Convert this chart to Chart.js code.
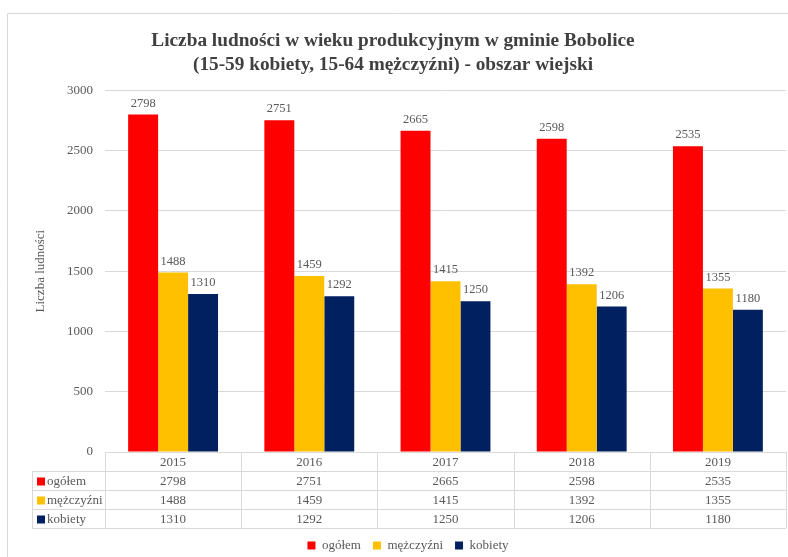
<!DOCTYPE html>
<html>
<head>
<meta charset="utf-8">
<script src="https://cdn.jsdelivr.net/npm/chart.js@4.4.1/dist/chart.umd.min.js"></script>
<style>
  body { margin: 0; background: #fff; }
  canvas { display: block; }
</style>
</head>
<body>
<canvas id="chart" width="788" height="557"></canvas>
<script>
// Data
const years = ['2015', '2016', '2017', '2018', '2019'];
const ogolem = [2798, 2751, 2665, 2598, 2535];
const mezczyzni = [1488, 1459, 1415, 1392, 1355];
const kobiety = [1310, 1292, 1250, 1206, 1180];
const yTicks = [0, 500, 1000, 1500, 2000, 2500, 3000];

const serif = '"Liberation Serif", "Times New Roman", serif';
const textGray = '#595959';
const lineGray = '#d9d9d9';

// Light frame around the chart
const framePlugin = {
    id: 'frame',
    beforeDraw(chart) {
        const ctx = chart.ctx;
        ctx.save();
        ctx.strokeStyle = lineGray;
        ctx.lineWidth = 1;
        ctx.beginPath();
        ctx.moveTo(7.5, 557);
        ctx.lineTo(7.5, 13.5);
        ctx.lineTo(788, 13.5);
        ctx.stroke();
        ctx.restore();
    }
};

// nudge the legend a bit to the right, like in the original
const legendShift = {
    id: 'legendShift',
    afterLayout(chart) {
        chart.legend.left += 15;
        chart.legend.right += 15;
    }
};

// Values above bars
const valueLabels = {
    id: 'valueLabels',
    afterDatasetsDraw(chart) {
        const ctx = chart.ctx;
        ctx.save();
        ctx.font = '12.5px ' + serif;
        ctx.fillStyle = textGray;
        ctx.textAlign = 'center';
        ctx.textBaseline = 'bottom';
        chart.data.datasets.forEach((ds, i) => {
            chart.getDatasetMeta(i).data.forEach((bar, j) => {
                ctx.fillText(ds.data[j], bar.x, bar.y - 5);
            });
        });
        ctx.restore();
    }
};

// Data table under the x axis
const dataTable = {
    id: 'dataTable',
    afterDraw(chart) {
        const ctx = chart.ctx;
        const x = chart.scales.x;
        const area = chart.chartArea;
        const n = years.length;
        const colW = (area.right - area.left) / n;
        const rowH = 19;
        const top = area.bottom;
        const tableLeft = 32;
        const rows = chart.data.datasets;

        ctx.save();
        ctx.strokeStyle = lineGray;
        ctx.lineWidth = 1;
        ctx.beginPath();
        ctx.moveTo(area.left, top + 0.5);
        ctx.lineTo(area.right, top + 0.5);
        for (let r = 1; r <= rows.length + 1; r++) {
            const y = Math.round(top + r * rowH) + 0.5;
            ctx.moveTo(tableLeft, y);
            ctx.lineTo(area.right, y);
        }
        for (let c = 0; c <= n; c++) {
            const xx = Math.round(area.left + c * colW) + 0.5;
            ctx.moveTo(xx, top);
            ctx.lineTo(xx, top + (rows.length + 1) * rowH);
        }
        ctx.moveTo(tableLeft + 0.5, top + rowH);
        ctx.lineTo(tableLeft + 0.5, top + (rows.length + 1) * rowH);
        ctx.stroke();

        ctx.font = '13px ' + serif;
        ctx.fillStyle = textGray;
        ctx.textBaseline = 'middle';
        ctx.textAlign = 'center';
        years.forEach((yr, c) => {
            ctx.fillText(yr, x.getPixelForValue(c), top + rowH / 2 + 1);
        });
        rows.forEach((ds, r) => {
            const cy = top + (r + 1.5) * rowH + 1;
            ctx.textAlign = 'center';
            ds.data.forEach((v, c) => {
                ctx.fillText(v, x.getPixelForValue(c), cy);
            });
            ctx.fillStyle = ds.backgroundColor;
            ctx.fillRect(tableLeft + 5, cy - 4, 8, 8);
            ctx.fillStyle = textGray;
            ctx.textAlign = 'left';
            ctx.fillText(ds.label, tableLeft + 15, cy);
        });
        ctx.restore();
    }
};

new Chart(document.getElementById('chart'), {
    type: 'bar',
    data: {
        labels: years,
        datasets: [
            { label: 'ogółem', data: ogolem, backgroundColor: '#FF0000' },
            { label: 'mężczyźni', data: mezczyzni, backgroundColor: '#FFC000' },
            { label: 'kobiety', data: kobiety, backgroundColor: '#002060' }
        ]
    },
    options: {
        responsive: false,
        animation: false,
        devicePixelRatio: 1,
        datasets: {
            bar: { categoryPercentage: 0.66, barPercentage: 1.0 }
        },
        layout: { padding: { top: 15, right: 2, bottom: -5, left: 0 } },
        plugins: {
            title: {
                display: true,
                text: ['Liczba ludności w wieku produkcyjnym w gminie Bobolice',
                       '(15-59 kobiety, 15-64 mężczyźni) - obszar wiejski'],
                color: '#404040',
                font: { family: serif, size: 19.3, weight: 'bold', lineHeight: 1.25 },
                padding: { top: 14, bottom: 13 }
            },
            legend: {
                position: 'bottom',
                labels: {
                    color: textGray,
                    font: { family: serif, size: 13 },
                    boxWidth: 8,
                    boxHeight: 8,
                    padding: 12
                }
            },
            tooltip: { enabled: false }
        },
        scales: {
            x: {
                grid: { display: false },
                border: { display: false },
                ticks: { display: false },
                afterFit(scale) { scale.height = 75; }
            },
            y: {
                min: 0,
                max: 3000,
                afterBuildTicks(scale) {
                    scale.ticks = yTicks.map(v => ({ value: v }));
                },
                grid: { color: lineGray, drawTicks: false },
                border: { display: false },
                ticks: {
                    color: textGray,
                    font: { family: serif, size: 13 },
                    padding: 12,
                    callback: v => String(v)
                },
                title: {
                    display: true,
                    text: 'Liczba ludności',
                    color: textGray,
                    font: { family: serif, size: 13 },
                    padding: { top: 33, bottom: 0 }
                },
                afterFit(scale) { scale.width = 105; }
            }
        }
    },
    plugins: [framePlugin, legendShift, valueLabels, dataTable]
});
</script>
</body>
</html>
